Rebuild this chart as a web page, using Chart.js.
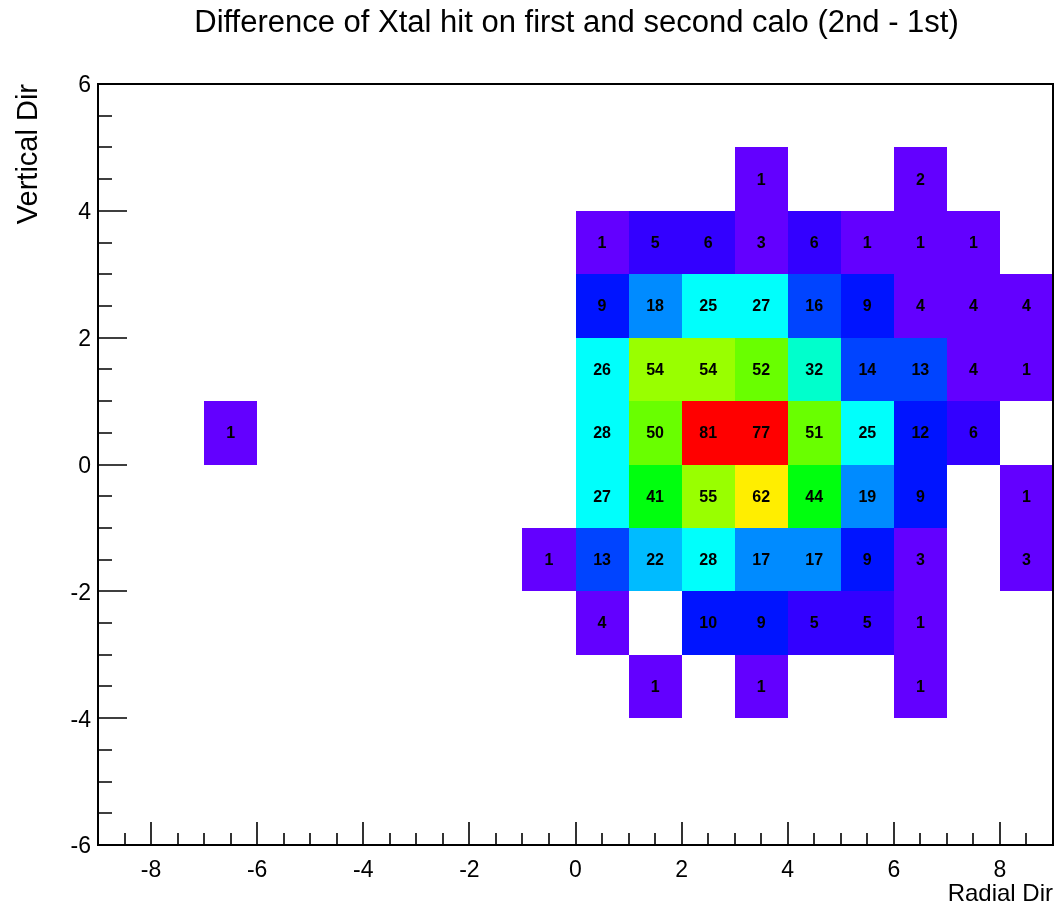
<!DOCTYPE html>
<html>
<head>
<meta charset="utf-8">
<title>Difference of Xtal hit on first and second calo</title>
<script src="https://cdn.jsdelivr.net/npm/chart.js@4.4.1/dist/chart.umd.min.js"></script>
<style>
  body { margin: 0; background: #fff; }
  canvas { display: block; }
</style>
</head>
<body>
<canvas id="grafico" width="1064" height="911"></canvas>
<script>
// lower edge of each 1-wide bin
const radialBins = [0, 1, 2, 3, 4, 5, 6, 7, 8];
const verticalBins = [4, 3, 2, 1, 0, -1, -2, -3, -4];

// counts per row (vertical bin), one entry per radial bin
const countsY4  = [0, 0, 0, 1, 0, 0, 2, 0, 0];
const countsY3  = [1, 5, 6, 3, 6, 1, 1, 1, 0];
const countsY2  = [9, 18, 25, 27, 16, 9, 4, 4, 4];
const countsY1  = [26, 54, 54, 52, 32, 14, 13, 4, 1];
const countsY0  = [28, 50, 81, 77, 51, 25, 12, 6, 0];
const countsYm1 = [27, 41, 55, 62, 44, 19, 9, 0, 1];
const countsYm2 = [13, 22, 28, 17, 17, 9, 3, 0, 3];
const countsYm3 = [4, 0, 10, 9, 5, 5, 1, 0, 0];
const countsYm4 = [0, 1, 0, 1, 0, 0, 1, 0, 0];
const countRows = [countsY4, countsY3, countsY2, countsY1, countsY0, countsYm1, countsYm2, countsYm3, countsYm4];

// isolated bins outside the main block
const extraRadial = [-7, -1];
const extraVertical = [0, -2];
const extraCounts = [1, 1];

const xTickLabels = [-8, -6, -4, -2, 0, 2, 4, 6, 8];
const yTickLabels = [-6, -4, -2, 0, 2, 4, 6];

const BIN = 1;
const FONTE = "'Liberation Sans', Arial, Helvetica, sans-serif";

/*
 * Old ROOT "pretty" palette (50 colours violet -> red) with 20 contour levels.
 */
function corRoot(v, zmax) {
    var nivel = Math.floor(0.01 + v * 20 / zmax);
    var idx = Math.floor((nivel + 0.99) * 50 / 20);
    if (idx > 49) idx = 49;
    var hue = 280 - (idx + 1) * 5.6;
    return 'hsl(' + hue.toFixed(2) + ', 100%, 50%)';
}

var celulas = [];
verticalBins.forEach((y0, i) => {
    radialBins.forEach((x0, j) => {
        var v = countRows[i][j];
        if (v > 0) celulas.push({x: x0 + BIN / 2, y: y0 + BIN / 2, x0: x0, y0: y0, v: v});
    });
});
extraCounts.forEach((v, k) => {
    celulas.push({x: extraRadial[k] + BIN / 2, y: extraVertical[k] + BIN / 2, x0: extraRadial[k], y0: extraVertical[k], v: v});
});

/*
 * Draws the coloured cells with their counts, then the ROOT-like frame with inward ticks.
 */
const pluginHisto = {
    id: 'histo2d',
    beforeDatasetsDraw(chart) {
        const ctx = chart.ctx, xs = chart.scales.x, ys = chart.scales.y;
        const dados = chart.data.datasets[0].data;
        const zmax = Math.max(...dados.map(c => c.v));
        ctx.save();
        for (const c of dados) {
            const l = Math.round(xs.getPixelForValue(c.x0));
            const r = Math.round(xs.getPixelForValue(c.x0 + BIN));
            const t = Math.round(ys.getPixelForValue(c.y0 + BIN));
            const b = Math.round(ys.getPixelForValue(c.y0));
            ctx.fillStyle = corRoot(c.v, zmax);
            ctx.fillRect(l, t, r - l, b - t);
        }
        ctx.fillStyle = '#000';
        ctx.font = 'bold 16px ' + FONTE;
        ctx.textAlign = 'center';
        ctx.textBaseline = 'middle';
        for (const c of dados) {
            ctx.fillText(String(c.v), xs.getPixelForValue(c.x), ys.getPixelForValue(c.y) + 1);
        }
        ctx.restore();
    },
    afterDraw(chart) {
        const ctx = chart.ctx, xs = chart.scales.x, ys = chart.scales.y;
        const area = chart.chartArea;
        ctx.save();
        ctx.strokeStyle = '#000';
        ctx.lineWidth = 2;
        ctx.strokeRect(area.left, area.top, area.right - area.left, area.bottom - area.top);

        ctx.lineWidth = 1.6;
        ctx.beginPath();
        for (let i = -18; i <= 18; i++) {
            const v = i / 2;
            if (v <= xs.min || v >= xs.max) continue;
            const px = Math.round(xs.getPixelForValue(v));
            const len = xTickLabels.includes(v) ? 23 : 12;
            ctx.moveTo(px, area.bottom);
            ctx.lineTo(px, area.bottom - len);
        }
        for (let i = -12; i <= 12; i++) {
            const v = i / 2;
            if (v <= ys.min || v >= ys.max) continue;
            const py = Math.round(ys.getPixelForValue(v));
            const len = yTickLabels.includes(v) ? 29 : 14;
            ctx.moveTo(area.left, py);
            ctx.lineTo(area.left + len, py);
        }
        ctx.stroke();

        // titulo
        ctx.fillStyle = '#000';
        ctx.font = '31px ' + FONTE;
        ctx.textAlign = 'center';
        ctx.textBaseline = 'alphabetic';
        ctx.fillText('Difference of Xtal hit on first and second calo (2nd - 1st)', (area.left + area.right) / 2 + 1, 32);
        ctx.restore();
    }
};

Chart.defaults.font.family = FONTE;
Chart.defaults.color = '#000';

const ctx = document.getElementById('grafico');
const grafico = new Chart(ctx, {
    type: 'scatter',
    data: {
        datasets: [{
            label: 'counts',
            data: celulas,
            pointRadius: 0,
            pointHoverRadius: 0
        }]
    },
    options: {
        responsive: false,
        animation: false,
        events: [],
        layout: {
            padding: {top: 84, right: 11, bottom: 0, left: 0}
        },
        plugins: {
            legend: {display: false},
            tooltip: {enabled: false},
            title: {display: false}
        },
        scales: {
            x: {
                type: 'linear',
                min: -9,
                max: 9,
                grid: {display: false, drawTicks: false},
                border: {display: false},
                afterBuildTicks: s => { s.ticks = xTickLabels.map(v => ({value: v})); },
                afterFit: s => { s.height = 66; },
                ticks: {
                    autoSkip: false,
                    maxRotation: 0,
                    padding: 12,
                    font: {size: 23}
                },
                title: {
                    display: true,
                    text: 'Radial Dir',
                    align: 'end',
                    font: {size: 24},
                    padding: {top: 0, bottom: 2}
                }
            },
            y: {
                type: 'linear',
                min: -6,
                max: 6,
                grid: {display: false, drawTicks: false},
                border: {display: false},
                afterBuildTicks: s => { s.ticks = yTickLabels.map(v => ({value: v})); },
                afterFit: s => { s.width = 98; },
                ticks: {
                    autoSkip: false,
                    padding: 7,
                    labelOffset: 2,
                    font: {size: 23}
                },
                title: {
                    display: true,
                    text: 'Vertical Dir',
                    align: 'end',
                    font: {size: 29},
                    padding: {top: 12, bottom: 0}
                }
            }
        }
    },
    plugins: [pluginHisto]
});
</script>
</body>
</html>
